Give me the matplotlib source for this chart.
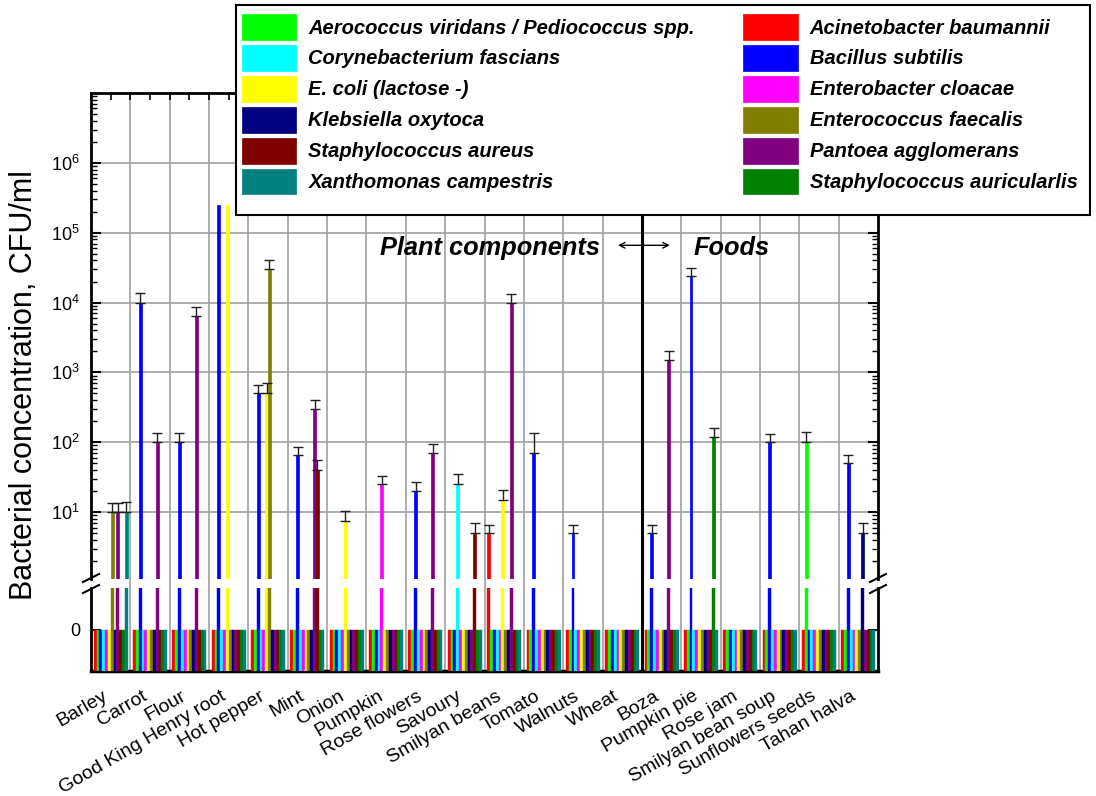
import numpy as np
import matplotlib
matplotlib.use("Agg")
import matplotlib.pyplot as plt
from matplotlib.patches import Patch, Rectangle
from matplotlib.lines import Line2D
from matplotlib.ticker import FixedLocator, LogLocator, NullFormatter, LogFormatterSciNotation
import matplotlib.transforms as mtransforms

plt.rcParams['font.family'] = ['Liberation Sans', 'DejaVu Sans']

categories = ["Barley", "Carrot", "Flour", "Good King Henry root", "Hot pepper", "Mint",
              "Onion", "Pumpkin", "Rose flowers", "Savoury", "Smilyan beans", "Tomato",
              "Walnuts", "Wheat", "Boza", "Pumpkin pie", "Rose jam", "Smilyan bean soup",
              "Sunflowers seeds", "Tahan halva"]

species = ["Acinetobacter baumannii", "Aerococcus viridans / Pediococcus spp.",
           "Bacillus subtilis", "Corynebacterium fascians", "Enterobacter cloacae",
           "E. coli (lactose -)", "Enterococcus faecalis", "Klebsiella oxytoca",
           "Pantoea agglomerans", "Staphylococcus aureus", "Staphylococcus auricularlis",
           "Xanthomonas campestris"]
colors = ["#FF0000", "#00FF00", "#0000FF", "#00FFFF", "#FF00FF", "#FFFF00",
          "#808000", "#000080", "#800080", "#800000", "#008000", "#008080"]

#                Bar  Car    Flo   GKH     HoP    Min Oni  Pum Ros Sav Smi    Tom Wal Whe Boz   PPi    RJ SBS  Sun Tah
acinetobacter = [0,   0,     0,    0,      0,     0,  0,   0,  0,  0,  5,     0,  0,  0,  0,    0,     0, 0,   0,  0]
aerococcus    = [0,   0,     0,    0,      0,     0,  0,   0,  0,  0,  0,     0,  0,  0,  0,    0,     0, 0,   100, 0]
bacillus      = [0,   10000, 100,  250000, 500,   65, 0,   0,  20, 0,  0,     70, 5,  0,  5,    24000, 0, 100, 0,  50]
coryne        = [0,   0,     0,    0,      0,     0,  0,   0,  0,  25, 0,     0,  0,  0,  0,    0,     0, 0,   0,  0]
enterobacter  = [0,   0,     0,    0,      0,     0,  0,   25, 0,  0,  0,     0,  0,  0,  0,    0,     0, 0,   0,  0]
ecoli         = [0,   0,     0,    250000, 500,   0,  7.5, 0,  0,  0,  15,    0,  0,  0,  0,    0,     0, 0,   0,  0]
enterococcus  = [10,  0,     0,    0,      30000, 0,  0,   0,  0,  0,  0,     0,  0,  0,  0,    0,     0, 0,   0,  0]
klebsiella    = [0,   0,     0,    0,      0,     0,  0,   0,  0,  0,  0,     0,  0,  0,  0,    0,     0, 0,   0,  5]
pantoea       = [10,  100,   6500, 0,      0,     300, 0,  0,  70, 0,  10000, 0,  0,  0,  1500, 0,     0, 0,   0,  0]
staph_aureus  = [0,   0,     0,    0,      0,     40, 0,   0,  0,  5,  0,     0,  0,  0,  0,    0,     0, 0,   0,  0]
staph_auric   = [0,   0,     0,    0,      0,     0,  0,   0,  0,  0,  0,     0,  0,  0,  0,    120,   0, 0,   0,  0]
xanthomonas   = [10,  0,     0,    0,      0,     0,  0,   0,  0,  0,  0,     0,  0,  0,  0,    0,     0, 0,   0,  0]

# upper error values
acinetobacter_err = [0,0,0,0,0,0,0,0,0,0,1.6,0,0,0,0,0,0,0,0,0]
aerococcus_err    = [0,0,0,0,0,0,0,0,0,0,0,0,0,0,0,0,0,0,40,0]
bacillus_err      = [0,3700,35,0,160,21,0,0,6.6,0,0,65,1.6,0,1.6,7600,0,32,0,16]
coryne_err        = [0,0,0,0,0,0,0,0,0,10,0,0,0,0,0,0,0,0,0,0]
enterobacter_err  = [0,0,0,0,0,0,0,8,0,0,0,0,0,0,0,0,0,0,0,0]
ecoli_err         = [0,0,0,0,200,0,3,0,0,0,6,0,0,0,0,0,0,0,0,0]
enterococcus_err  = [3.5,0,0,0,10000,0,0,0,0,0,0,0,0,0,0,0,0,0,0,0]
klebsiella_err    = [0,0,0,0,0,0,0,0,0,0,0,0,0,0,0,0,0,0,0,2]
pantoea_err       = [3.5,36,2200,0,0,100,0,0,23,0,3400,0,0,0,500,0,0,0,0,0]
staph_aureus_err  = [0,0,0,0,0,15,0,0,0,2,0,0,0,0,0,0,0,0,0,0]
staph_auric_err   = [0,0,0,0,0,0,0,0,0,0,0,0,0,0,0,38,0,0,0,0]
xanthomonas_err   = [4,0,0,0,0,0,0,0,0,0,0,0,0,0,0,0,0,0,0,0]

values = [acinetobacter, aerococcus, bacillus, coryne, enterobacter, ecoli,
          enterococcus, klebsiella, pantoea, staph_aureus, staph_auric, xanthomonas]
errors = [acinetobacter_err, aerococcus_err, bacillus_err, coryne_err, enterobacter_err,
          ecoli_err, enterococcus_err, klebsiella_err, pantoea_err, staph_aureus_err,
          staph_auric_err, xanthomonas_err]

W, H = 1096, 796
fig = plt.figure(figsize=(W / 100, H / 100), dpi=100)
L, R = 91, 878
up_top, up_bot = 93, 579
lo_top, lo_bot = 588, 671
ax = fig.add_axes([L / W, 1 - up_bot / H, (R - L) / W, (up_bot - up_top) / H])
axl = fig.add_axes([L / W, 1 - lo_bot / H, (R - L) / W, (lo_bot - lo_top) / H])

n = len(categories)
x = np.arange(n)
bw = 0.072
UP_MIN, UP_MAX = 1.1, 1e7
LO_MIN, LO_MAX = -41, 42
grid_c = "#a0a0a0"

for k, (vals, errs, c) in enumerate(zip(values, errors, colors)):
    v = np.array(vals, dtype=float)
    e = np.array(errs, dtype=float)
    xs = x + (k - 5.5) * bw
    m = v > 0
    ax.bar(xs[m], v[m] - UP_MIN, bottom=UP_MIN, width=bw, color=c,
           edgecolor=c, linewidth=0.5, zorder=3)
    me = e > 0
    if me.any():
        ax.errorbar(xs[me], v[me], yerr=[np.zeros(me.sum()), e[me]], fmt='none',
                    ecolor='#202020', elinewidth=1.0, capsize=3.5, capthick=1.0, zorder=4)
    top = np.where(m, LO_MAX + 10, 0.0)
    axl.bar(xs, top - LO_MIN, bottom=LO_MIN, width=bw, color=c, edgecolor=c,
            linewidth=0.3, zorder=3)

# upper axes
ax.set_yscale('log')
ax.set_ylim(UP_MIN, UP_MAX)
ax.set_xlim(-0.5, n - 0.5)
ax.yaxis.set_major_locator(FixedLocator([10, 1e2, 1e3, 1e4, 1e5, 1e6]))
ax.yaxis.set_minor_locator(LogLocator(base=10, subs=np.arange(2, 10), numticks=20))
ax.yaxis.set_major_formatter(LogFormatterSciNotation())
ax.yaxis.set_minor_formatter(NullFormatter())
for yv in [10, 1e2, 1e3, 1e4, 1e5, 1e6]:
    ax.axhline(yv, color=grid_c, lw=1.2, zorder=1)
trans = mtransforms.blended_transform_factory(ax.transData, ax.transAxes)
gap = (lo_top - up_bot) / (up_bot - up_top)
for b in np.arange(n - 1) + 0.5:
    if abs(b - 13.5) < 1e-6:
        ax.plot([b, b], [-gap, 1], transform=trans, color='black', lw=2.2,
                clip_on=False, zorder=5)
    else:
        ax.plot([b, b], [-gap, 1], transform=trans, color=grid_c, lw=1.2,
                clip_on=False, zorder=1)
ax.set_xticks(x)
ax.set_xticks(np.arange(n + 1) - 0.5, minor=True)
ax.tick_params(axis='x', which='both', bottom=False, top=True, labelbottom=False,
               direction='in', length=5, width=1.2)
ax.tick_params(axis='y', which='major', left=True, right=True, direction='in',
               length=7, width=1.5, labelsize=13, pad=8)
ax.tick_params(axis='y', which='minor', left=True, right=True, direction='in',
               length=4, width=1.0)
ax.spines['bottom'].set_visible(False)
for s in ['left', 'right', 'top']:
    ax.spines[s].set_linewidth(2)

# lower axes
axl.set_xlim(-0.5, n - 0.5)
axl.set_ylim(LO_MIN, LO_MAX)
axl.set_yticks([0])
axl.set_yticklabels(["0"])
axl.tick_params(axis='y', left=True, right=True, direction='in', length=7,
                width=1.5, labelsize=13, pad=8)
axl.set_xticks(x)
axl.set_xticklabels(categories, rotation=30, ha='right', va='top', fontsize=14)
axl.tick_params(axis='x', direction='in', length=0, pad=12)
transl = mtransforms.blended_transform_factory(axl.transData, axl.transAxes)
for b in np.arange(n - 1) + 0.5:
    if abs(b - 13.5) < 1e-6:
        axl.plot([b, b], [0, 1], transform=transl, color='black', lw=2.2, zorder=5)
    else:
        axl.plot([b, b], [0, 1], transform=transl, color=grid_c, lw=1.2, zorder=1)
axl.spines['top'].set_visible(False)
axl.spines['bottom'].set_linewidth(2.5)
for s in ['left', 'right']:
    axl.spines[s].set_linewidth(2)

# break marks
for xc in (L, R):
    for yc in (up_bot - 1, lo_top + 1):
        fig.add_artist(Line2D([(xc - 8) / W, (xc + 8) / W],
                              [1 - (yc + 4) / H, 1 - (yc - 4) / H],
                              color='black', lw=1.5))

# y label
fig.text(24 / W, 1 - 385 / H, "Bacterial concentration, CFU/ml", rotation=90,
         ha='center', va='center', fontsize=22)

# annotations
ax.text(6.84, 4.8e4, "Plant components", fontsize=18.3, fontweight='bold',
        fontstyle='italic', ha='left', va='baseline', zorder=6)
ax.text(14.80, 4.8e4, "Foods", fontsize=18.3, fontweight='bold',
        fontstyle='italic', ha='left', va='baseline', zorder=6)
ax.annotate('', xy=(12.89, 6.6e4), xytext=(14.21, 6.6e4),
            arrowprops=dict(arrowstyle='<->', lw=1.0, color='black',
                            shrinkA=0, shrinkB=0, mutation_scale=10), zorder=6)

# legend (frame drawn separately)
fig.add_artist(Rectangle((236 / W, 1 - 215 / H), (1090 - 236) / W, 210 / H,
                         transform=fig.transFigure, facecolor='white',
                         edgecolor='black', lw=1.5, zorder=4))
order = [1, 3, 5, 7, 9, 11, 0, 2, 4, 6, 8, 10]
handles = [Patch(facecolor=colors[i], edgecolor=colors[i], linewidth=0.5) for i in order]
labels = [species[i] for i in order]
leg = fig.legend(handles, labels, ncol=2, loc='upper left',
                 bbox_to_anchor=(236 / W, 1 - 8 / H),
                 prop=dict(family='Liberation Sans', weight='bold', style='italic', size=14.5),
                 handlelength=2.7, handleheight=1.6, handletextpad=0.6,
                 labelspacing=0.25, columnspacing=2.4, borderpad=0.3,
                 borderaxespad=0, frameon=False)
leg.set_zorder(5)

fig.savefig("out.png", dpi=100)
